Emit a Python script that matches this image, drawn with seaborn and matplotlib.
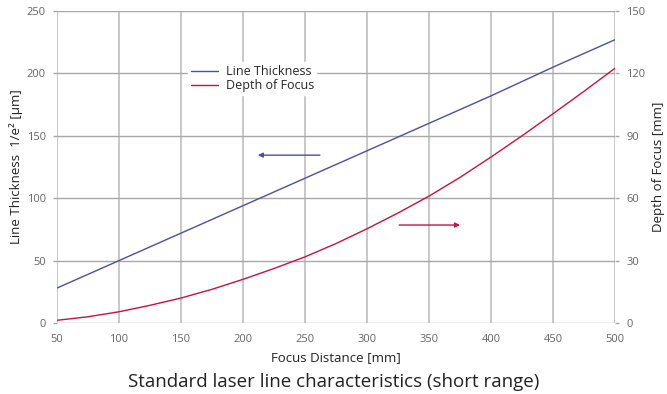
import matplotlib
matplotlib.use("Agg")
import matplotlib.pyplot as plt
import seaborn as sns
import pandas as pd

# ----------------------------
# Data
# ----------------------------
focus_distance = [50, 75, 100, 125, 150, 175, 200, 225, 250, 275, 300,
                  325, 350, 375, 400, 425, 450, 475, 500]
line_thickness = [28, 39, 50, 61, 72, 83, 94, 105, 116, 127, 138,
                  149, 160, 171, 182, 193.5, 205, 216, 227]
depth_of_focus = [1.3, 3.0, 5.4, 8.5, 12.0, 16.2, 21.0, 26.2, 31.8, 38.2, 45.3,
                  52.9, 61.0, 70.0, 79.8, 90.0, 100.6, 111.4, 122.5]

df = pd.DataFrame({"Focus Distance": focus_distance,
                   "Line Thickness": line_thickness,
                   "Depth of Focus": depth_of_focus})

blue = "#4b4fa6"
red = "#cf0f3d"
grid_v = "#c8c8c8"
grid_h = "#a8a8a8"
tick_c = "#666666"

sns.set_style("white")
plt.rcParams['font.family'] = ['Open Sans', 'DejaVu Sans']

fig = plt.figure(figsize=(6.67, 3.94), dpi=100)
ax = fig.add_axes([57/667, 1 - 323/394, (615-57)/667, (323-11)/394])
ax2 = ax.twinx()

sns.lineplot(data=df, x="Focus Distance", y="Line Thickness", ax=ax,
             color=blue, lw=1.0, label="Line Thickness", legend=False)
sns.lineplot(data=df, x="Focus Distance", y="Depth of Focus", ax=ax2,
             color=red, lw=1.0, label="Depth of Focus", legend=False)

ax.set_xlim(50, 500)
ax.set_ylim(0, 250)
ax2.set_ylim(0, 150)
ax.set_xticks(range(50, 501, 50))
ax.set_yticks(range(0, 251, 50))
ax2.set_yticks(range(0, 151, 30))

for a in (ax, ax2):
    for s in a.spines.values():
        s.set_visible(False)

ax.xaxis.grid(True, color=grid_v, lw=1.4)
ax.yaxis.grid(True, color=grid_h, lw=1.0)
ax.set_axisbelow(True)
ax.tick_params(axis="x", length=3, width=1.4, color=grid_v, labelsize=8,
               labelcolor=tick_c, pad=5)
ax.tick_params(axis="y", length=3, width=1.0, color=grid_h, labelsize=8,
               labelcolor=tick_c, pad=5)
ax2.tick_params(axis="y", length=3, width=1.0, color=grid_h, labelsize=8,
                labelcolor=tick_c, pad=5)

ax.set_xlabel("Focus Distance [mm]", fontsize=9.5, color="#222222", labelpad=4)
ax.set_ylabel("Line Thickness  1/e² [µm]", fontsize=9.5, color="#222222", labelpad=3)
ax2.set_ylabel("Depth of Focus [mm]", fontsize=9.5, color="#222222", labelpad=5)

# direction arrows
ax.annotate("", xy=(212, 134.5), xytext=(262, 134.5),
            arrowprops=dict(arrowstyle="-|>", color=blue, lw=1.0,
                            mutation_scale=7, shrinkA=0, shrinkB=0))
ax.annotate("", xy=(375, 78.5), xytext=(326, 78.5),
            arrowprops=dict(arrowstyle="-|>", color=red, lw=1.0,
                            mutation_scale=7, shrinkA=0, shrinkB=0))

h1, l1 = ax.get_legend_handles_labels()
h2, l2 = ax2.get_legend_handles_labels()
leg = ax2.legend(h1 + h2, l1 + l2, loc="upper left",
                 bbox_to_anchor=(0.235, 0.835), frameon=True, fontsize=9,
                 handlelength=2.2, handletextpad=0.6, labelspacing=0.1,
                 borderpad=0.2, borderaxespad=0)
leg.get_frame().set_facecolor("white")
leg.get_frame().set_edgecolor("white")
leg.get_frame().set_alpha(1)

fig.text(0.5, 1 - 382/394, "Standard laser line characteristics (short range)",
         ha="center", va="center", fontsize=13.5, color="#222222")

fig.savefig("out.png", dpi=100)
